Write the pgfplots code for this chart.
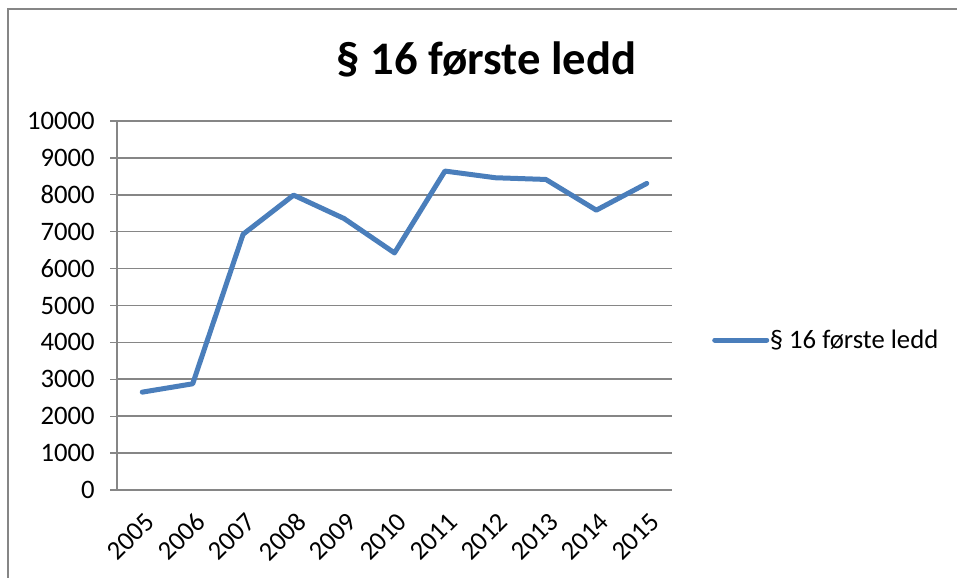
\documentclass[border=0pt]{standalone}
\usepackage{pgfplots}
\pgfplotsset{compat=1.18}
\usepackage{fontspec}
\setmainfont{Carlito}
\definecolor{xlblue}{HTML}{4A7EBB}
\definecolor{xlgray}{HTML}{868686}
\begin{document}
\begin{tikzpicture}[x=0.75pt,y=0.75pt]
\path[use as bounding box] (0,0) rectangle (957,578);
\draw[xlgray, line width=1.5pt] (7.5,0) -- (7.5,569) -- (957,569);
\node[font=\fontsize{35}{40}\selectfont\bfseries, anchor=base] at (486.5,503) {§ 16 første ledd};
\begin{axis}[
  at={(117*0.75pt,88*0.75pt)}, anchor=south west,
  scale only axis,
  width=416.25pt, height=276.75pt,
  xmin=-0.5, xmax=10.5,
  ymin=0, ymax=10000,
  ytick={0,1000,...,10000},
  scaled y ticks=false,
  xtick={0,...,10},
  xticklabels={2005,2006,2007,2008,2009,2010,2011,2012,2013,2014,2015},
  major x tick style={draw=none},
  extra x ticks={-0.5,0.5,...,10.5},
  extra x tick labels={},
  extra x tick style={major tick length=5.25pt, tick style={xlgray, line width=1pt}, grid=none},
  tick align=outside,
  major tick length=5.25pt,
  tick style={xlgray, line width=1pt},
  ymajorgrids,
  grid style={xlgray, line width=1.2pt},
  axis line style={xlgray, line width=1.2pt},
  axis x line*=bottom, axis y line*=left,
  /pgf/number format/assume math mode=true,
  /pgf/number format/1000 sep={},
  tick label style={font=\fontsize{20}{24}\selectfont},
  yticklabel style={inner sep=0pt, anchor=east, xshift=-11.25pt},
  xticklabel style={rotate=45, anchor=east, inner sep=0pt, xshift=-6.5pt, yshift=-15pt},
  legend style={draw=none, fill=none, at={(1.072,0.4065)}, anchor=west, inner sep=0pt,
    font=\fontsize{20}{24}\selectfont, nodes={inner sep=0pt, anchor=west}, column sep=0.5pt},
  legend image code/.code={\draw[#1, line width=3.75pt, line cap=round] (0pt,0pt) -- (39pt,0pt);},
]
\addplot[xlblue, line width=3.75pt, line join=round, line cap=round] coordinates {
(0,2652) (1,2878) (2,6932) (3,7991) (4,7357) (5,6425) (6,8643) (7,8462) (8,8416) (9,7584) (10,8308)};
\addlegendentry{§ 16 første ledd}
\end{axis}
\end{tikzpicture}
\end{document}
